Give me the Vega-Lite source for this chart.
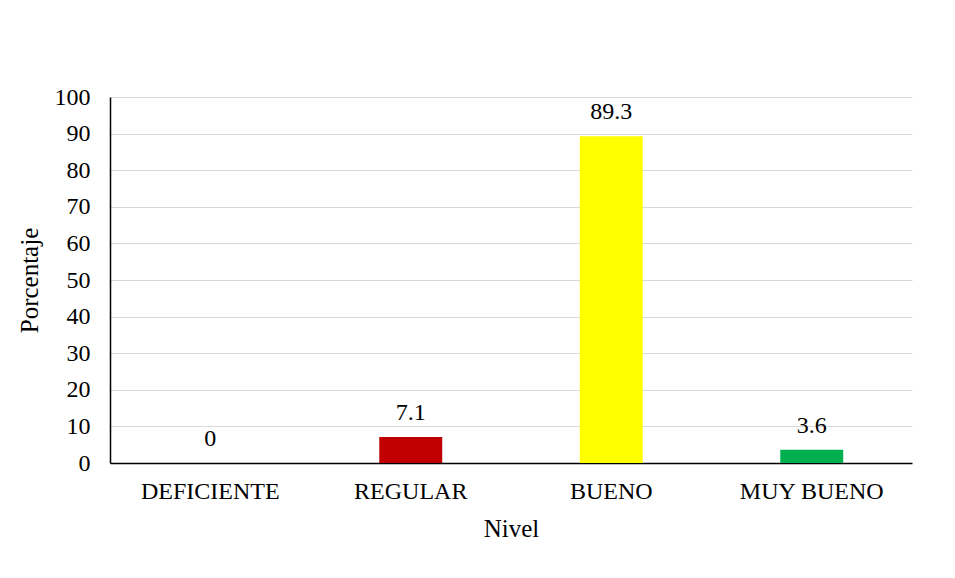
{
  "$schema": "https://vega.github.io/schema/vega-lite/v6.json",
  "autosize": {"type": "none"},
  "padding": {"left": 110, "top": 97, "right": 43, "bottom": 115},
  "width": 802,
  "height": 366,
  "background": "white",
  "config": {
    "font": "Liberation Serif",
    "view": {"stroke": null}
  },
  "data": {
    "values": [
      {"nivel": "DEFICIENTE", "pct": 0, "lbl": "0"},
      {"nivel": "REGULAR", "pct": 7.1, "lbl": "7.1"},
      {"nivel": "BUENO", "pct": 89.3, "lbl": "89.3"},
      {"nivel": "MUY BUENO", "pct": 3.6, "lbl": "3.6"}
    ]
  },
  "encoding": {
    "x": {
      "field": "nivel",
      "type": "nominal",
      "sort": null,
      "scale": {"paddingInner": 0.686, "paddingOuter": 0.343},
      "axis": {
        "title": "Nivel",
        "labelAngle": 0,
        "labelFont": "Liberation Serif",
        "labelFontSize": 24,
        "labelColor": "#000000",
        "labelPadding": 16,
        "ticks": false,
        "domainColor": "#000000",
        "domainWidth": 1.5,
        "titleFont": "Liberation Serif",
        "titleFontSize": 25,
        "titleFontWeight": "normal",
        "titleColor": "#000000",
        "titlePadding": 13
      }
    },
    "y": {
      "field": "pct",
      "type": "quantitative",
      "scale": {"domain": [0, 100], "nice": false},
      "axis": {
        "title": "Porcentaje",
        "values": [0, 10, 20, 30, 40, 50, 60, 70, 80, 90, 100],
        "labelFont": "Liberation Serif",
        "labelFontSize": 24,
        "labelColor": "#000000",
        "labelPadding": 20,
        "ticks": false,
        "domainColor": "#000000",
        "domainWidth": 1.5,
        "grid": true,
        "gridColor": "#d9d9d9",
        "gridWidth": 1,
        "titleFont": "Liberation Serif",
        "titleFontSize": 25,
        "titleFontWeight": "normal",
        "titleColor": "#000000",
        "titlePadding": 12
      }
    }
  },
  "layer": [
    {
      "mark": {"type": "bar"},
      "encoding": {
        "color": {
          "field": "nivel",
          "type": "nominal",
          "scale": {
            "domain": ["DEFICIENTE", "REGULAR", "BUENO", "MUY BUENO"],
            "range": ["#4472C4", "#C00000", "#FFFF00", "#00B050"]
          },
          "legend": null
        }
      }
    },
    {
      "mark": {"type": "text", "baseline": "alphabetic", "dy": -17, "fontSize": 24, "font": "Liberation Serif", "color": "#000000"},
      "encoding": {"text": {"field": "lbl"}}
    }
  ]
}
